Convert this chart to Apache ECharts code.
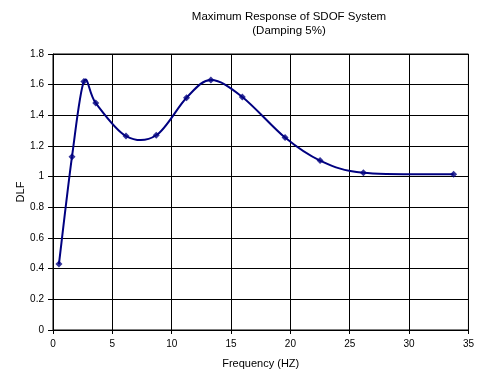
<!DOCTYPE html>
<html>
<head>
<meta charset="utf-8">
<script src="https://cdn.jsdelivr.net/npm/echarts@6/dist/echarts.min.js"></script>
<style>
  html, body { margin: 0; padding: 0; background: #fff; }
  #chart { width: 477px; height: 376px; }
</style>
</head>
<body>
<div id="chart"></div>
<script>
// frequency (Hz) and dynamic load factor
const freq = [0.5, 1.6, 2.6, 3.6, 6.15, 8.7, 11.25, 13.3, 15.95, 19.55, 22.5, 26.15, 33.75]
const dlf = [0.43, 1.13, 1.62, 1.48, 1.265, 1.27, 1.515, 1.63, 1.52, 1.255, 1.105, 1.025, 1.015]
const points = freq.map((f, i) => [f, dlf[i]])

const chart = echarts.init(document.getElementById('chart'), null, { renderer: 'canvas' })
const font = 'Liberation Sans, Arial, sans-serif'
const navy = '#000080'

// excel-like smoothed line: catmull-rom segments as bezier curves in pixel space
function renderCurve(params, api) {
  const p = points.map(d => api.coord(d))
  const t = 1 / 6
  const children = []
  for (let i = 0; i < p.length - 1; i++) {
    const a = p[i - 1] || p[i]
    const b = p[i]
    const c = p[i + 1]
    const d = p[i + 2] || p[i + 1]
    children.push({
      type: 'bezierCurve',
      shape: {
        x1: b[0], y1: b[1],
        cpx1: b[0] + (c[0] - a[0]) * t, cpy1: b[1] + (c[1] - a[1]) * t,
        cpx2: c[0] - (d[0] - b[0]) * t, cpy2: c[1] - (d[1] - b[1]) * t,
        x2: c[0], y2: c[1]
      },
      style: { stroke: navy, lineWidth: 2, fill: null }
    })
  }
  return { type: 'group', children: children }
}

chart.setOption({
  animation: false,
  title: {
    text: 'Maximum Response of SDOF System\n(Damping 5%)',
    left: 284,
    top: 5,
    textAlign: 'center',
    textStyle: { fontFamily: font, fontSize: 11.5, fontWeight: 'normal', color: '#000', lineHeight: 14 }
  },
  grid: { left: 53, right: 8, top: 54, bottom: 46, show: true, borderColor: '#000', borderWidth: 1 },
  xAxis: {
    type: 'value',
    min: 0, max: 35, interval: 5,
    name: 'Frequency (HZ)',
    nameLocation: 'middle',
    nameGap: 28,
    nameTextStyle: { fontFamily: font, fontSize: 11, color: '#000' },
    axisLine: { lineStyle: { color: '#000', width: 1 } },
    axisTick: { show: true, length: 4, lineStyle: { color: '#000' } },
    axisLabel: { fontFamily: font, fontSize: 10, color: '#000', margin: 9 },
    splitLine: { show: true, lineStyle: { color: '#000', width: 1 } }
  },
  yAxis: {
    type: 'value',
    min: 0, max: 1.8, interval: 0.2,
    name: 'DLF',
    nameLocation: 'middle',
    nameGap: 27,
    nameMoveOverlap: false,
    nameRotate: 90,
    nameTextStyle: { fontFamily: font, fontSize: 11, color: '#000' },
    axisLine: { show: true, lineStyle: { color: '#000', width: 1 } },
    axisTick: { show: true, length: 5, lineStyle: { color: '#000' } },
    axisLabel: {
      fontFamily: font, fontSize: 10, color: '#000', margin: 9,
      formatter: v => String(Math.round(v * 10) / 10)
    },
    splitLine: { show: true, lineStyle: { color: '#000', width: 1 } }
  },
  series: [{
    type: 'custom',
    renderItem: renderCurve,
    data: [0],
    clip: true,
    silent: true,
    z: 2
  }, {
    type: 'scatter',
    data: points,
    symbol: 'diamond',
    symbolSize: 7,
    itemStyle: { color: navy },
    z: 3
  }]
})
</script>
</body>
</html>
